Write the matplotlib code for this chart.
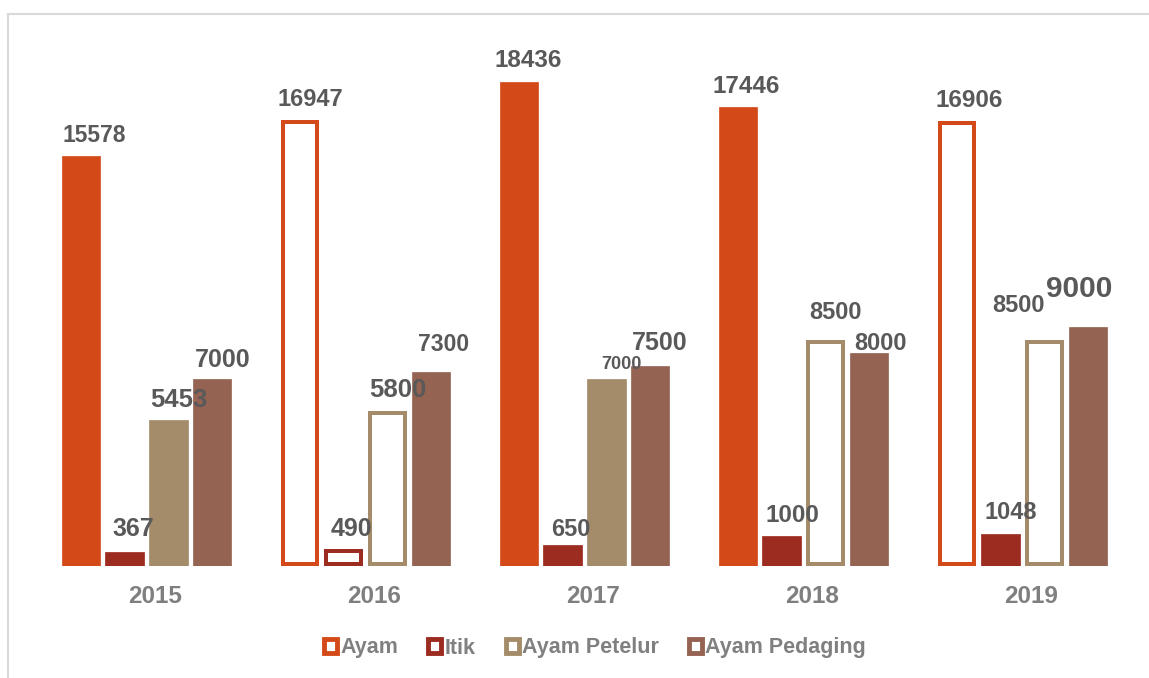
import matplotlib
matplotlib.use('Agg')
import matplotlib.pyplot as plt
from matplotlib.patches import Rectangle
from matplotlib.lines import Line2D

# ---------------- data ----------------
years = ['2015', '2016', '2017', '2018', '2019']
series = ['Ayam', 'Itik', 'Ayam Petelur', 'Ayam Pedaging']
ayam = [15578, 16947, 18436, 17446, 16906]
itik = [367, 490, 650, 1000, 1048]
ayam_petelur = [5453, 5800, 7000, 8500, 8500]
ayam_pedaging = [7000, 7300, 7500, 8000, 9000]
values = [ayam, itik, ayam_petelur, ayam_pedaging]

# ---------------- styles ----------------
colors = ['#D34A18', '#9C2B20', '#A48C6A', '#956352']
hollow = [
    [False, True, False, False, True],
    [False, True, False, False, False],
    [False, True, False, True, True],
    [False, False, False, False, False],
]
# label offsets (px) from bar top centre: (dx, dy to baseline)
label_offsets = [
    [(13, 14), (11, 14), (9.5, 15), (8.5, 14), (12, 14)],
    [(9, 16), (8, 13), (8, 9), (11, 14), (10.5, 15)],
    [(10, 13), (10, 14), (15.5, 10), (10, 21), (-26, 28)],
    [(10, 12), (12.5, 21), (9.5, 16), (11, 3), (-9, 30)],
]
label_sizes = [
    [16.5, 17, 17.5, 17.5, 17.5],
    [18, 18, 17, 17.5, 17],
    [18.5, 18.5, 13, 17, 17],
    [18, 16.5, 18, 17, 21.5],
]

W, H, DPI = 1149, 678, 100
plt.rcParams['font.family'] = ['Liberation Sans', 'DejaVu Sans']

fig = plt.figure(figsize=(W / DPI, H / DPI), dpi=DPI)
ax_left_px, ax_right_px = 8, 1149
ax_top_px, ax_bot_px = 14, 565.7
ax = fig.add_axes([ax_left_px / W, 1 - ax_bot_px / H,
                   (ax_right_px - ax_left_px) / W, (ax_bot_px - ax_top_px) / H])

base = -160
xlim = (-0.6324, 4.5776)
ylim = (base, 21035)
ax.set_xlim(*xlim)
ax.set_ylim(*ylim)
ax.axis('off')

px_per_x = (ax_right_px - ax_left_px) / (xlim[1] - xlim[0])
px_per_y = (ax_bot_px - ax_top_px) / (ylim[1] - ylim[0])

bar_w = 0.175
step = 0.2
lw_px = 4.0
hx = (lw_px / 2) / px_per_x
hy = (lw_px / 2) / px_per_y

for k, vals in enumerate(values):
    for i, v in enumerate(vals):
        x = i + (k - 1.5) * step
        if hollow[k][i]:
            ax.bar(x, v - base - 2 * hy, bottom=base + hy, width=bar_w - 2 * hx,
                   facecolor='white', edgecolor=colors[k], linewidth=lw_px * 0.72,
                   joinstyle='miter')
        else:
            ax.bar(x, v - base, bottom=base, width=bar_w,
                   facecolor=colors[k], edgecolor=colors[k], linewidth=0.5)
        dx, dy = label_offsets[k][i]
        ax.annotate(str(v), xy=(x, v), xytext=(dx * 0.72, dy * 0.72),
                    textcoords='offset points', ha='center', va='baseline',
                    fontsize=label_sizes[k][i], fontweight='bold',
                    color='#595959', annotation_clip=False)

for i, yr in enumerate(years):
    ax.annotate(yr, xy=(i, base), xytext=(9 * 0.72, -37 * 0.72),
                textcoords='offset points', ha='center', va='baseline',
                fontsize=17.5, fontweight='bold', color='#7F7F7F',
                annotation_clip=False)

handles = [Rectangle((0, 0), 1, 1, facecolor='white', edgecolor=c, linewidth=3.5,
                     joinstyle='miter') for c in colors]
fig.legend(handles, series, loc='center', bbox_to_anchor=(595 / W, 1 - 648 / H),
           ncol=4, frameon=False,
           prop=dict(family='Liberation Sans', weight='bold', size=15.5),
           labelcolor='#808080', handlelength=0.6, handleheight=0.6,
           handletextpad=0.15, columnspacing=1.4)

# outer frame (top and left edges)
fig.add_artist(Line2D([8 / W, 1], [1 - 14 / H, 1 - 14 / H], color='#D9D9D9', lw=1.5))
fig.add_artist(Line2D([8 / W, 8 / W], [1 - 14 / H, 0], color='#D9D9D9', lw=1.5))

fig.savefig('out.png', dpi=DPI)
